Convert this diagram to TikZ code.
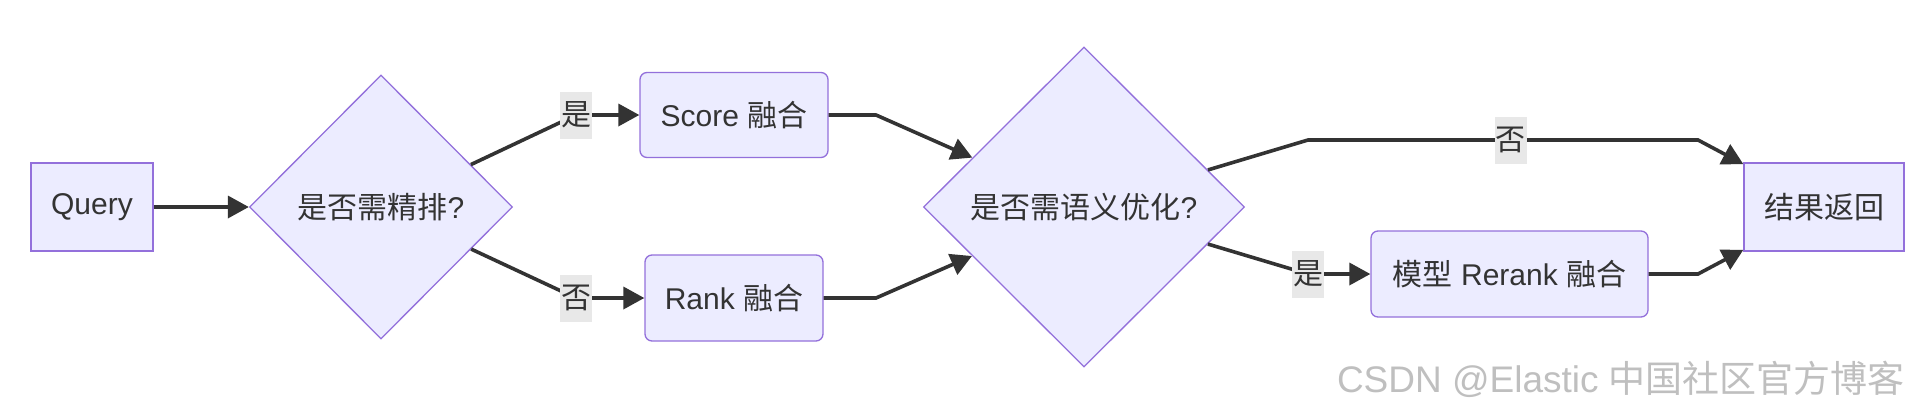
\documentclass[tikz,border=0pt]{standalone}
\usepackage{fontspec}
\setmainfont{Liberation Sans}
\newfontfamily\zhfont{Noto Sans CJK SC}
\newcommand{\zhs}[1]{{\zhfont #1}}
\usetikzlibrary{arrows.meta,shapes.geometric}
\definecolor{mmfill}{HTML}{ECECFF}
\definecolor{mmline}{HTML}{9370DB}
\definecolor{mmtext}{HTML}{333333}
\definecolor{mmlabel}{HTML}{E8E8E8}

\begin{document}
\begin{tikzpicture}[x=0.5pt,y=-0.5pt,font=\fontsize{15}{18}\selectfont,text=mmtext,
  >={Triangle[length=10.5pt,width=11pt]},
  box/.style={draw=mmline,fill=mmfill,line width=0.65pt,inner sep=0pt},
  rbox/.style={box,rounded corners=3.5pt},
  decision/.style={box,diamond,aspect=1},
  lbl/.style={fill=mmlabel,inner xsep=0.5pt,inner ysep=0pt,minimum height=23.5pt},
  flow/.style={->,draw=mmtext,line width=1.8pt}]
\useasboundingbox (0,0) rectangle (1918,408);
\node[box,minimum width=61pt,minimum height=44pt] (query) at (92,207) {Query};
\node[decision,minimum width=131.5pt,minimum height=132pt] (q1) at (381,207) {\zhs{是否需精排}?};
\node[rbox,minimum width=94pt,minimum height=42.5pt] (score) at (734,115) {Score \zhs{融合}};
\node[rbox,minimum width=89pt,minimum height=43pt] (rank) at (734,298) {Rank \zhs{融合}};
\node[decision,minimum width=160.5pt,minimum height=160pt] (q2) at (1084,207) {\zhs{是否需语义优化}?};
\node[rbox,minimum width=138.5pt,minimum height=43pt] (rerank) at (1509.5,274) {\zhs{模型} Rerank \zhs{融合}};
\node[box,minimum width=80pt,minimum height=44pt] (result) at (1824,207) {\zhs{结果返回}};
\node[text=gray!50,font=\fontsize{18.5}{20}\selectfont,anchor=east] (mark) at (1912,379) {CSDN @Elastic \zhs{中国社区官方博客}};
\foreach \n/\x/\y in {b1/576/115,b2/576/298,b3/876/115,b4/876/298,b5/1308/140,b6/1698/140,b7/1308/274,b8/1698/274}
  \coordinate (\n) at (\x,\y);
\draw[flow] (query) -- (q1);
\draw[flow] (q1) -- (b1) node[lbl]{\zhs{是}} -- (score);
\draw[flow] (q1) -- (b2) node[lbl]{\zhs{否}} -- (rank);
\draw[flow] (score) -- (b3) -- (q2);
\draw[flow] (rank) -- (b4) -- (q2);
\draw[flow] (q2) -- (b5) -- node[lbl,pos=.52]{\zhs{否}} (b6) -- (result);
\draw[flow] (q2) -- (b7) node[lbl]{\zhs{是}} -- (rerank);
\draw[flow] (rerank) -- (b8) -- (result);
\end{tikzpicture}
\end{document}
